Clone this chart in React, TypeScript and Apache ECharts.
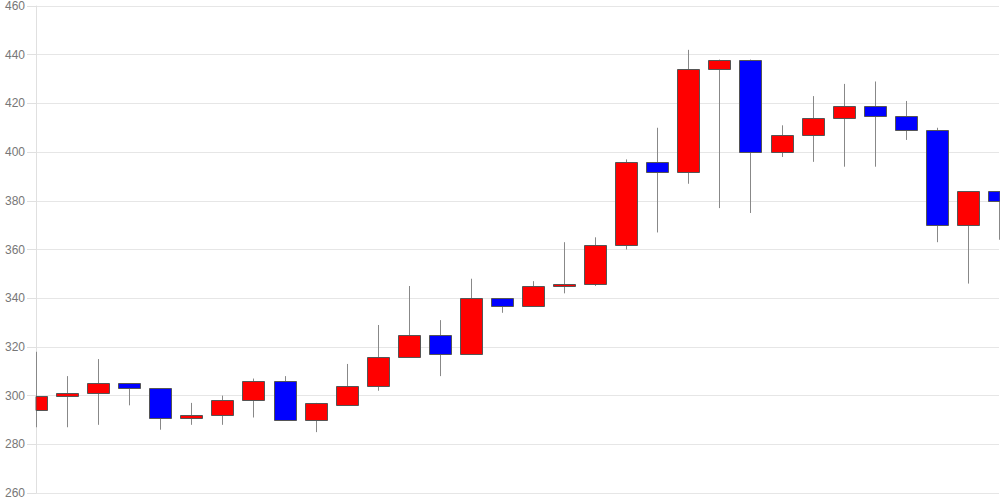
import React, { useEffect, useRef } from "react";
import * as echarts from "echarts";

const categories: string[] = [
  "1", "2", "3", "4", "5", "6", "7", "8", "9", "10", "11", "12", "13", "14", "15", "16",
  "17", "18", "19", "20", "21", "22", "23", "24", "25", "26", "27", "28", "29", "30", "31", "32",
];
const opens: number[] = [294, 300, 301, 305, 303, 291, 292, 298, 306, 290, 296, 304, 316, 325, 317, 340, 337, 345, 346, 362, 396, 392, 434, 438, 400, 407, 414, 419, 415, 409, 370, 384];
const closes: number[] = [300, 301, 305, 303, 291, 292, 298, 306, 290, 297, 304, 316, 325, 317, 340, 337, 345, 346, 362, 396, 392, 434, 438, 400, 407, 414, 419, 415, 409, 370, 384, 380];
const lows: number[] = [287, 287, 288, 296, 286, 288, 288, 291, 290, 285, 296, 302, 316, 308, 317, 334, 337, 342, 345, 360, 367, 387, 377, 375, 398, 396, 394, 394, 405, 363, 346, 364];
const highs: number[] = [318, 308, 315, 305, 303, 297, 300, 307, 308, 297, 313, 329, 345, 331, 348, 340, 347, 363, 365, 397, 410, 442, 438, 438, 411, 423, 428, 429, 421, 410, 384, 384];
const yTicks = { min: 260, max: 460, interval: 20 };

export default function App() {
  const ref = useRef<HTMLDivElement>(null);
  useEffect(() => {
    if (!ref.current) return;
    const chart = echarts.init(ref.current, undefined, { renderer: "svg" });
    const data = categories.map((c, i) => [i, opens[i], closes[i], lows[i], highs[i]]);
    const renderItem = (params: any, api: any) => {
      const idx = api.value(0);
      const o = api.value(1);
      const c = api.value(2);
      const l = api.value(3);
      const h = api.value(4);
      const pO = api.coord([idx, o]);
      const pC = api.coord([idx, c]);
      const pL = api.coord([idx, l]);
      const pH = api.coord([idx, h]);
      const bw = 22;
      const cx = Math.round(pO[0]);
      const top = Math.round(Math.min(pO[1], pC[1]));
      const bot = Math.round(Math.max(pO[1], pC[1]));
      const up = c >= o;
      const cs = params.coordSys;
      const area = { x: cs.x, y: cs.y - 2, width: cs.width + 1, height: cs.height + 4 };
      const body = echarts.graphic.clipRectByRect(
        { x: cx - bw / 2 + 0.5, y: top + 0.5, width: bw, height: Math.max(bot - top, 2) },
        area
      );
      const children: any[] = [
        {
          type: "line",
          shape: { x1: cx + 0.5, y1: pH[1], x2: cx + 0.5, y2: pL[1] },
          style: { stroke: "#888", lineWidth: 1 },
        },
      ];
      if (body) {
        children.push({
          type: "rect",
          shape: body,
          style: { fill: up ? "#ff0000" : "#0000ff", stroke: "#555", lineWidth: 1 },
        });
      }
      return { type: "group", children };
    };
    chart.setOption({
      animation: false,
      grid: { left: 36, right: 1, top: 5, bottom: 7, containLabel: false },
      xAxis: {
        type: "category",
        data: categories,
        boundaryGap: false,
        axisLine: { show: false },
        axisTick: { show: false },
        axisLabel: { show: false },
        splitLine: { show: false },
      },
      yAxis: {
        type: "value",
        min: yTicks.min,
        max: yTicks.max,
        interval: yTicks.interval,
        axisLine: { show: true, lineStyle: { color: "#e0e0e0" } },
        axisTick: { show: true, length: 9, lineStyle: { color: "#e0e0e0" } },
        axisLabel: { color: "#777", fontSize: 12, margin: 11, fontFamily: "Arial, Liberation Sans, sans-serif" },
        splitLine: { show: true, lineStyle: { color: "#e6e6e6" } },
      },
      series: [
        {
          type: "custom",
          renderItem,
          data,
          clip: false,
          encode: { x: 0, y: [1, 2, 3, 4] },
        },
      ],
    });
    return () => chart.dispose();
  }, []);
  return (
    <div
      ref={ref}
      style={{ position: "fixed", left: 0, top: 0, width: 1000, height: 500, background: "#fff" }}
    />
  );
}
